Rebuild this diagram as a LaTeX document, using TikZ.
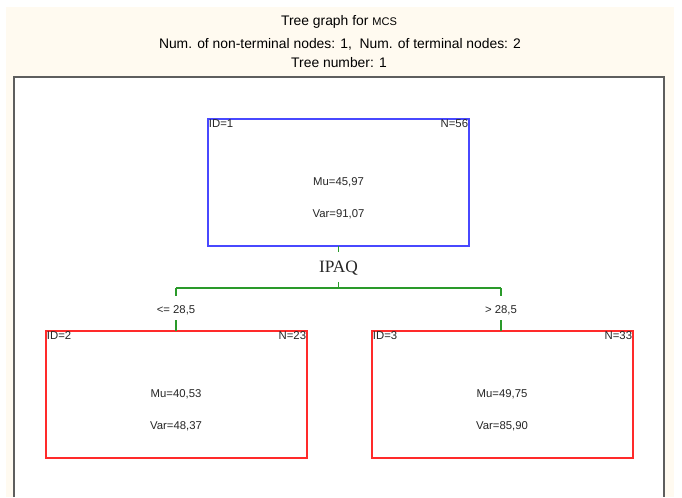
\documentclass[tikz,border=0pt]{standalone}
\usepackage{fontspec}
\setmainfont{Liberation Sans}
\newfontfamily\serifx{Liberation Serif}
\definecolor{cream}{HTML}{FFFAF0}
\definecolor{framegray}{HTML}{5E5E5E}
\definecolor{boxblue}{HTML}{4848FF}
\definecolor{boxred}{HTML}{FF2A2A}
\definecolor{linkgreen}{HTML}{2A9A2A}
\definecolor{txt}{HTML}{262626}
\tikzset{
  treebox/.style={draw, line width=0.9pt, minimum width=195.75pt, minimum height=95.25pt, inner sep=0pt, outer sep=0pt, anchor=north west},
  rootbox/.style={treebox, draw=boxblue},
  leafbox/.style={treebox, draw=boxred},
  corner/.style={inner sep=0.5pt, font=\fontsize{8.5}{10}\selectfont, text=txt},
  stat/.style={inner sep=0pt, font=\fontsize{8.5}{10}\selectfont, text=txt},
  link/.style={draw=linkgreen, line width=0.8pt},
  splitlbl/.style={inner sep=0pt, font=\fontsize{8.5}{10}\selectfont, text=txt},
  titletxt/.style={inner sep=0pt, font=\fontsize{10.4}{12}\selectfont, text=black}
}
\begin{document}
\begin{tikzpicture}[x=0.75pt,y=-0.75pt]
\useasboundingbox (0,0) rectangle (682,497);
\fill[white] (0,0) rectangle (682,497);
\fill[cream] (6,7) rectangle (674,497);
\fill[white] (13,76) rectangle (664,497);
\draw[framegray, line width=1.5pt] (13.5,497) -- (13.5,76.5) -- (663.5,76.5) -- (663.5,497);
% titles
\node[titletxt] (t1) at (339,22) {Tree graph for {\fontsize{8.3}{9}\selectfont MCS}};
\node[titletxt] (t2) at (340,44) {Num. of non-terminal nodes: 1,\ \ Num. of terminal nodes: 2};
\node[titletxt] (t3) at (339,63) {Tree number: 1};
% boxes
\node[rootbox] (root) at (208,119) {};
\node[leafbox] (left) at (46,331) {};
\node[leafbox] (right) at (372,331) {};
% root texts
\node[corner, anchor=north west] (id1) at (root.north west) {ID=1};
\node[corner, anchor=north east] (n1) at (root.north east) {N=56};
\node[stat] (mu1) at (338.5,182) {Mu=45,97};
\node[stat] (var1) at (338.5,214) {Var=91,07};
% left texts
\node[corner, anchor=north west] (id2) at (left.north west) {ID=2};
\node[corner, anchor=north east] (n2) at (left.north east) {N=23};
\node[stat] (mu2) at (176,394) {Mu=40,53};
\node[stat] (var2) at (176,426) {Var=48,37};
% right texts
\node[corner, anchor=north west] (id3) at (right.north west) {ID=3};
\node[corner, anchor=north east] (n3) at (right.north east) {N=33};
\node[stat] (mu3) at (502,394) {Mu=49,75};
\node[stat] (var3) at (502,426) {Var=85,90};
% split
\node[inner sep=0pt, font=\serifx\fontsize{13}{14}\selectfont, text=txt] (ipaq) at (338.5,268) {IPAQ};
\node[splitlbl] (lelbl) at (176,310) {<= 28,5};
\node[splitlbl] (gtlbl) at (501,310) {> 28,5};
\coordinate (hl) at (176,288);
\coordinate (hr) at (501,288);
\coordinate (hm) at (338.5,288);
\draw[link] (root.south) -- ++(0,6);
\draw[link] (hm) -- ++(0,-6);
\draw[link] (hl) -- (hr);
\draw[link] (hl) -- ++(0,8);
\draw[link] (hr) -- ++(0,8);
\draw[link] (left.north -| hl) -- ++(0,-11);
\draw[link] (right.north -| hr) -- ++(0,-11);
\end{tikzpicture}
\end{document}
